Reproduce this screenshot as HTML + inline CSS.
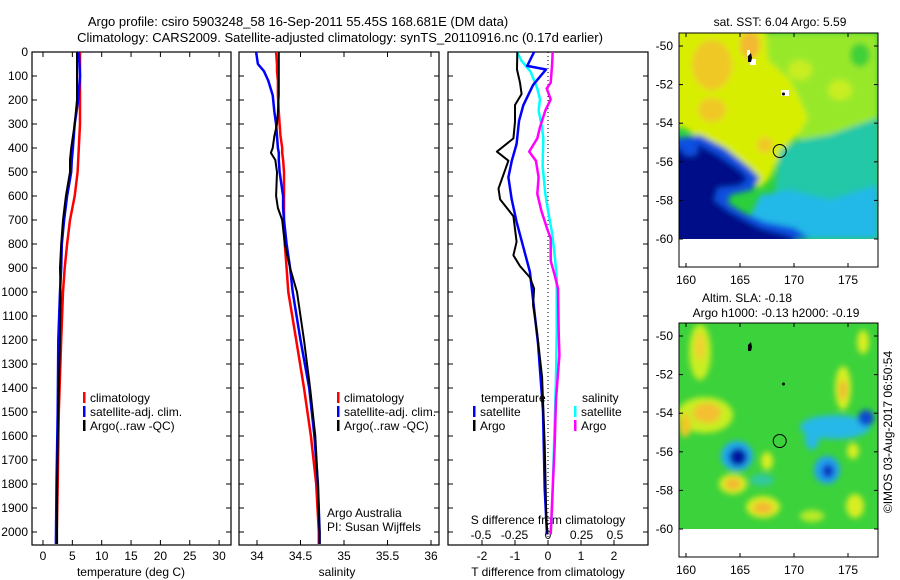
<!DOCTYPE html>
<html><head><meta charset="utf-8"><style>
body{margin:0;background:#fff;}
svg{display:block;font-family:"Liberation Sans",sans-serif;}
text{fill:#000;}
</style></head><body>
<svg id="chart" width="900" height="580" viewBox="0 0 900 580" xmlns="http://www.w3.org/2000/svg">
<defs>
<filter id="blur4" x="-20%" y="-20%" width="140%" height="140%"><feGaussianBlur stdDeviation="3"/></filter>
<clipPath id="cm1"><rect x="679" y="33" width="199" height="206"/></clipPath>
<clipPath id="cm2"><rect x="679" y="323" width="199" height="206"/></clipPath>
<clipPath id="cp1"><rect x="32" y="52" width="199" height="493"/></clipPath>
<clipPath id="cp2"><rect x="239" y="52" width="200" height="493"/></clipPath>
<clipPath id="cp3"><rect x="448" y="52" width="200" height="493"/></clipPath>
</defs>
<text x="298" y="26" font-size="13" text-anchor="middle">Argo profile: csiro 5903248_58 16-Sep-2011 55.45S 168.681E (DM data)</text>
<text x="340" y="42" font-size="13" text-anchor="middle">Climatology: CARS2009. Satellite-adjusted climatology: synTS_20110916.nc (0.17d earlier)</text>

<!-- SST map -->
<g>
<g clip-path="url(#cm1)">
<rect x="679" y="33" width="199" height="206" fill="#2ccf3c"/>
<g filter="url(#blur4)">
<polygon fill="#98e82c" points="760,33 878,33 878,120 830,140 800,140 780,120 770,80"/>
<ellipse cx="800" cy="70" rx="12" ry="10" fill="#c8ee20"/>
<ellipse cx="840" cy="90" rx="12" ry="10" fill="#c8ee20"/>
<ellipse cx="860" cy="55" rx="10" ry="12" fill="#40d038"/>
<polygon fill="#d8ee00" points="660,20 765,20 768,60 790,80 800,100 808,118 798,135 788,145 778,160 770,178 760,188 750,180 745,165 720,150 700,140 685,128 660,125"/>
<ellipse cx="712" cy="65" rx="20" ry="25" fill="#f0c828"/>
<ellipse cx="750" cy="45" rx="10" ry="14" fill="#f4b830"/>
<ellipse cx="712" cy="110" rx="14" ry="12" fill="#f0c828"/>
<ellipse cx="765" cy="145" rx="8" ry="8" fill="#f0c828"/>
<polygon fill="#22c8a8" points="780,150 800,140 830,135 878,118 878,239 770,239 775,190"/>
<polygon fill="#20b8e8" points="760,195 790,190 830,200 878,185 878,239 740,239"/>
<polygon fill="#1050e0" points="665,140 700,135 725,148 750,168 760,178 752,190 730,195 728,203 742,212 765,222 795,228 810,239 665,239"/>
<polygon fill="#000c88" points="665,152 700,145 718,155 742,172 748,180 738,186 718,188 714,200 730,212 760,228 790,236 800,245 665,245"/>
<ellipse cx="690" cy="150" rx="8" ry="6" fill="#1050e0"/>
</g>
<rect x="747" y="50" width="3" height="6" fill="#fff"/>
<rect x="750" y="59" width="6" height="6" fill="#fff"/>
<path d="M748,56 l3,-3 l1,5 l-1,4 l-3,0z" fill="#000"/>
<rect x="781" y="90" width="8" height="6" fill="#fff"/>
<circle cx="783.5" cy="94" r="1.5" fill="#000"/>
</g>
<circle cx="779.7" cy="151" r="6.5" fill="none" stroke="#000" stroke-width="1"/>
<rect x="679" y="33" width="199" height="234" fill="none" stroke="#000"/>
<text x="780" y="26" font-size="12" text-anchor="middle">sat. SST: 6.04 Argo: 5.59</text>
</g>

<!-- SLA map -->
<g>
<g clip-path="url(#cm2)">
<rect x="679" y="323" width="199" height="206" fill="#3cd23c"/>
<g filter="url(#blur4)">
<ellipse cx="700" cy="352" rx="11" ry="28" fill="#c8ee20"/>
<ellipse cx="700" cy="347" rx="5" ry="14" fill="#f0d030"/>
<ellipse cx="705" cy="415" rx="28" ry="18" fill="#c8ee20"/>
<ellipse cx="707" cy="413" rx="14" ry="10" fill="#f4c030"/>
<ellipse cx="685" cy="425" rx="6" ry="12" fill="#f0c828"/>
<ellipse cx="737" cy="456" rx="16" ry="15" fill="#20a8f0"/>
<ellipse cx="738" cy="457" rx="9" ry="9" fill="#0018a0"/>
<ellipse cx="733" cy="484" rx="14" ry="10" fill="#d8ee20"/>
<ellipse cx="733" cy="484" rx="8" ry="6" fill="#f4b830"/>
<ellipse cx="763" cy="507" rx="17" ry="11" fill="#d8ee20"/>
<ellipse cx="763" cy="508" rx="10" ry="6" fill="#f4b830"/>
<ellipse cx="767" cy="461" rx="6" ry="9" fill="#d8ee20"/>
<ellipse cx="835" cy="427" rx="35" ry="12" fill="#28b8e8"/>
<ellipse cx="812" cy="438" rx="7" ry="12" fill="#28b8e8"/>
<ellipse cx="866" cy="418" rx="8" ry="8" fill="#1048d0"/>
<ellipse cx="827" cy="470" rx="13" ry="14" fill="#20a0f0"/>
<ellipse cx="828" cy="471" rx="6" ry="7" fill="#1038c0"/>
<ellipse cx="843" cy="388" rx="8" ry="22" fill="#d8ee20"/>
<ellipse cx="843" cy="390" rx="4" ry="10" fill="#f0b830"/>
<ellipse cx="863" cy="342" rx="6" ry="12" fill="#d8ee20"/>
<ellipse cx="853" cy="451" rx="6" ry="8" fill="#d8ee20"/>
<ellipse cx="855" cy="506" rx="9" ry="12" fill="#d8ee20"/>
<ellipse cx="812" cy="516" rx="12" ry="6" fill="#b8ea28"/>
<ellipse cx="762" cy="480" rx="12" ry="6" fill="#30c8a0"/>
</g>
<path d="M748,345 l3,-3 l1,5 l-1,4 l-3,0z" fill="#000"/>
<circle cx="783.5" cy="384" r="1.5" fill="#000"/>
</g>
<circle cx="779.7" cy="441" r="6.5" fill="none" stroke="#000" stroke-width="1"/>
<rect x="679" y="323" width="199" height="234" fill="none" stroke="#000"/>
<text x="747" y="302" font-size="12" text-anchor="middle">Altim. SLA: -0.18</text>
<text x="776" y="317" font-size="12" text-anchor="middle">Argo h1000: -0.13 h2000: -0.19</text>
</g>
<text transform="translate(892,432) rotate(-90)" font-size="12" text-anchor="middle">©IMOS 03-Aug-2017 06:50:54</text>

<g id="plots"></g>
</svg>
<script>
// ---- data ----
const tDepth = [0,100,200,300,400,450,500,600,700,800,900,1000,1200,1500,1800,2050];
const tempClim = [6.3,6.3,6.3,6.3,6.1,6.0,5.9,5.4,4.6,4.1,3.7,3.4,3.1,2.7,2.5,2.3];
const tempSat = [6.1,6.3,6.0,5.4,5.1,4.9,4.8,4.1,3.6,3.2,3.1,2.9,2.6,2.5,2.3,2.2];
const tempArgo = [5.8,5.8,5.8,5.4,4.8,4.6,4.6,3.9,3.4,3.1,2.9,3.0,2.9,2.6,2.4,2.4];

const sDepth = [0,50,80,120,180,250,300,350,400,420,450,500,600,650,700,800,900,1000,1200,1400,1600,1800,2000,2050];
const salClim = [34.22,34.23,34.23,34.24,34.24,34.25,34.26,34.27,34.29,34.29,34.30,34.31,34.31,34.31,34.31,34.32,34.34,34.36,34.45,34.54,34.62,34.68,34.71,34.71];
const salSat = [33.99,34.01,34.08,34.13,34.18,34.20,34.22,34.23,34.24,34.25,34.25,34.26,34.30,34.30,34.31,34.34,34.38,34.41,34.50,34.60,34.66,34.70,34.72,34.72];
const salArgo = [34.25,34.25,34.25,34.25,34.25,34.24,34.23,34.20,34.18,34.16,34.21,34.23,34.22,34.24,34.29,34.32,34.38,34.46,34.54,34.61,34.67,34.70,34.72,34.72];

const dtSatDepth = [0,58,73,137,222,288,383,455,522,614,708,916,1217,1495,1820,2010];
const dtSat = [-0.42,-0.63,-0.06,-0.45,-0.75,-0.88,-0.95,-1.1,-1.2,-1.1,-0.95,-0.55,-0.3,-0.15,-0.1,-0.03];
const dtArgoDepth = [0,73,128,175,221,291,360,415,453,569,614,684,791,847,892,939,986,1055,1170,1356,1634,1959,2010];
const dtArgo = [-0.93,-0.94,-0.85,-0.8,-1.0,-1.0,-1.05,-1.55,-1.2,-1.5,-1.45,-1.05,-0.95,-1.05,-0.85,-0.55,-0.42,-0.45,-0.33,-0.18,-0.1,-0.05,-0.01];
const dsSatDepth = [0,35,82,152,197,244,313,360,475,591,661,753,847,939,1170,1356,1542,1726,1912,2010];
const dsSat = [-0.23,-0.2,-0.13,-0.08,-0.06,-0.07,-0.045,-0.035,-0.04,-0.02,0.0,0.03,0.05,0.065,0.065,0.06,0.05,0.04,0.03,0.02];
const dsArgoDepth = [0,58,128,152,197,244,313,360,415,453,522,591,661,731,777,870,930,986,1170,1264,1448,1634,1820,2010];
const dsArgo = [0.035,0.03,0.02,-0.01,0.02,-0.02,-0.06,-0.08,-0.14,-0.09,-0.07,-0.08,-0.05,-0.01,0.02,0.02,0.05,0.075,0.08,0.085,0.06,0.05,0.035,0.02];

const depthTicks = [0,100,200,300,400,500,600,700,800,900,1000,1100,1200,1300,1400,1500,1600,1700,1800,1900,2000];
const tempTicks = [0,5,10,15,20,25,30];
const salTicks = [34,34.5,35,35.5,36];
const salTickLabels = ["34","34.5","35","35.5","36"];
const dtTicks = [-2,-1,0,1,2];
const dsTicks = [-0.5,-0.25,0,0.25,0.5];
const dsTickLabels = ["-0.5","-0.25","0","0.25","0.5"];
const lonTicks = [160,165,170,175];
const latTicks = [-50,-52,-54,-56,-58,-60];

// ---- axes ----
const NS = "http://www.w3.org/2000/svg";
const root = document.getElementById('plots');
const yD = d => 52 + d*0.24;
const xT = v => 43 + v*5.87;
const xS = v => 257 + (v-34)*87;
const xDT = v => 548 + v*33;
const xDS = v => 548 + v*134;
const mapX = lon => 686 + (lon-160)*10.8;
const mapY1 = lat => 46 + (-50-lat)*19.3;
const mapY2 = lat => 336 + (-50-lat)*19.3;

function mk(tag, attrs, parent){
  const e = document.createElementNS(NS, tag);
  for (const k in attrs) e.setAttribute(k, attrs[k]);
  (parent||root).appendChild(e);
  return e;
}
function txt(x,y,s,anchor,size,parent){
  const e = mk('text',{x:x,y:y,'font-size':size||12,'text-anchor':anchor||'start'},parent);
  e.textContent = s;
  return e;
}
function stepLine(xs, ds, xf, color, w, clip, name){
  let d = '';
  for (let i=0;i<xs.length;i++){
    const x = xf(xs[i]).toFixed(1), y = yD(ds[i]).toFixed(1);
    d += (i===0?'M':'L') + x + ',' + y;
  }
  const p = mk('path',{d:d,fill:'none',stroke:color,'stroke-width':w,'stroke-linejoin':'round','clip-path':clip});
  
  
}
function panel(x0,x1,name){
  const r = mk('rect',{x:x0,y:52,width:x1-x0,height:493,fill:'none',stroke:'#000','stroke-width':1.2});
  
  
  depthTicks.forEach(d=>{
    mk('line',{x1:x0,x2:x0+5,y1:yD(d),y2:yD(d),stroke:'#000'});
    mk('line',{x1:x1-5,x2:x1,y1:yD(d),y2:yD(d),stroke:'#000'});
  });
}
// panel 1
panel(32,231,'temperature-panel');
depthTicks.forEach(d=>{
  const t = txt(28, yD(d)+4, String(d), 'end', 12);
  
  
});
tempTicks.forEach(v=>{
  mk('line',{x1:xT(v),x2:xT(v),y1:545,y2:540,stroke:'#000'});
  mk('line',{x1:xT(v),x2:xT(v),y1:52,y2:57,stroke:'#000'});
  const t = txt(xT(v), 560, String(v), 'middle', 12);
  
  
});
const tx1 = txt(131, 576, 'temperature (deg C)', 'middle', 12);


stepLine(tempClim, tDepth, xT, '#ff0000', 2.5, 'url(#cp1)', 'temperature-climatology-line');
stepLine(tempSat, tDepth, xT, '#0000ff', 2.5, 'url(#cp1)', 'temperature-satellite-line');
stepLine(tempArgo, tDepth, xT, '#000000', 2, 'url(#cp1)', 'temperature-argo-line');

// panel 2
panel(239,439,'salinity-panel');
salTicks.forEach((v,i)=>{
  mk('line',{x1:xS(v),x2:xS(v),y1:545,y2:540,stroke:'#000'});
  mk('line',{x1:xS(v),x2:xS(v),y1:52,y2:57,stroke:'#000'});
  const t = txt(xS(v), 560, salTickLabels[i], 'middle', 12);
  
  
});
const tx2 = txt(337, 576, 'salinity', 'middle', 12);


stepLine(salClim, sDepth, xS, '#ff0000', 2.5, 'url(#cp2)', 'salinity-climatology-line');
stepLine(salSat, sDepth, xS, '#0000ff', 2.5, 'url(#cp2)', 'salinity-satellite-line');
stepLine(salArgo, sDepth, xS, '#000000', 2, 'url(#cp2)', 'salinity-argo-line');

// panel 3
panel(448,648,'difference-panel');
mk('line',{x1:548,x2:548,y1:52,y2:545,stroke:'#000','stroke-dasharray':'1,3'});
dtTicks.forEach(v=>{
  mk('line',{x1:xDT(v),x2:xDT(v),y1:545,y2:540,stroke:'#000'});
  const t = txt(xDT(v), 560, String(v), 'middle', 12);
  
  
});
dsTicks.forEach((v,i)=>{
  const t = txt(xDS(v), 539, dsTickLabels[i], 'middle', 12);
  
  
});
const tx3 = txt(548, 576, 'T difference from climatology', 'middle', 12);


const tx4 = txt(548, 524, 'S difference from climatology', 'middle', 12);


stepLine(dsSat, dsSatDepth, xDS, '#00ffff', 2.5, 'url(#cp3)', 's-diff-satellite-line');
stepLine(dsArgo, dsArgoDepth, xDS, '#ff00ff', 2.5, 'url(#cp3)', 's-diff-argo-line');
stepLine(dtSat, dtSatDepth, xDT, '#0000ff', 2.5, 'url(#cp3)', 't-diff-satellite-line');
stepLine(dtArgo, dtArgoDepth, xDT, '#000000', 2, 'url(#cp3)', 't-diff-argo-line');

// legends
function legend(x, y, color, label, name){
  const g = mk('g',{});
  
  
  mk('rect',{x:x,y:y-10,width:2.5,height:11,fill:color},g);
  txt(x+7, y, label, 'start', 12, g);
}
legend(83,402,'#ff0000','climatology','legend-climatology-temp');
legend(83,416,'#0000ff','satellite-adj. clim.','legend-satellite-temp');
legend(83,430,'#000000','Argo(..raw -QC)','legend-argo-temp');
legend(337,402,'#ff0000','climatology','legend-climatology-sal');
legend(337,416,'#0000ff','satellite-adj. clim.','legend-satellite-sal');
legend(337,430,'#000000','Argo(..raw -QC)','legend-argo-sal');
const lt = txt(481, 402, 'temperature', 'start', 12);


const ls = txt(582, 402, 'salinity', 'start', 12);


legend(473,416,'#0000ff','satellite','legend-t-diff-satellite');
legend(473,430,'#000000','Argo','legend-t-diff-argo');
legend(574,416,'#00ffff','satellite','legend-s-diff-satellite');
legend(574,430,'#ff00ff','Argo','legend-s-diff-argo');
const a1 = txt(327, 517, 'Argo Australia', 'start', 12);


const a2 = txt(327, 531, 'PI: Susan Wijffels', 'start', 12);



// map axes
[[mapY1,33,267,284],[mapY2,323,557,574]].forEach(([my,top,bot,ly])=>{
  latTicks.forEach(v=>{
    mk('line',{x1:679,x2:683,y1:my(v),y2:my(v),stroke:'#000'});
    mk('line',{x1:874,x2:878,y1:my(v),y2:my(v),stroke:'#000'});
    const t = txt(673, my(v)+4, String(v), 'end', 12);
    
    
  });
  lonTicks.forEach(v=>{
    mk('line',{x1:mapX(v),x2:mapX(v),y1:bot,y2:bot-4,stroke:'#000'});
    mk('line',{x1:mapX(v),x2:mapX(v),y1:top,y2:top+4,stroke:'#000'});
    const t = txt(mapX(v), ly, String(v), 'middle', 12);
    
    
  });
});
</script>
</body></html>
